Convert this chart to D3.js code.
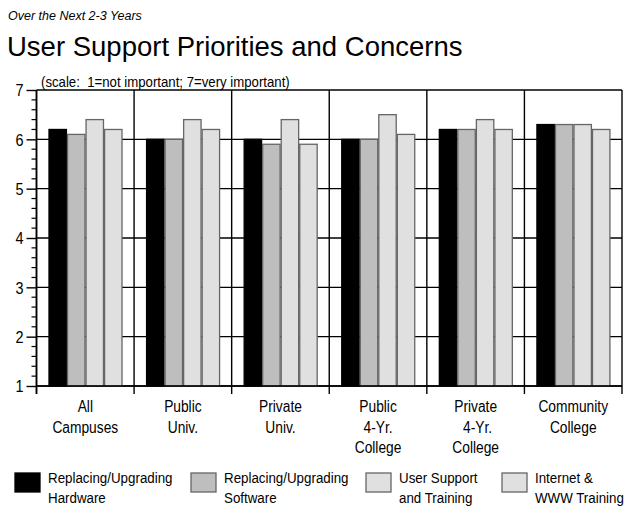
<!DOCTYPE html>
<html>
<head>
<meta charset="utf-8">
<script src="https://cdn.jsdelivr.net/npm/d3@7"></script>
<style>
  body { margin: 0; background: #fff; }
  text { font-family: "Liberation Sans", Arial, Helvetica, sans-serif; fill: #000; }
</style>
</head>
<body>
<div id="viz"></div>
<script>
// categories (multi-line labels)
const categories = [
    ["All", "Campuses"],
    ["Public", "Univ."],
    ["Private", "Univ."],
    ["Public", "4-Yr.", "College"],
    ["Private", " 4-Yr.", "College"],
    ["Community", "College"]
];

// series names (legend, two lines each)
const seriesNames = [
    ["Replacing/Upgrading", "Hardware"],
    ["Replacing/Upgrading", "Software"],
    ["User Support", "and Training"],
    ["Internet &", "WWW Training"]
];

// values per series, one per category
const hardware = [6.2, 6.0, 6.0, 6.0, 6.2, 6.3];
const software = [6.1, 6.0, 5.9, 6.0, 6.2, 6.3];
const support  = [6.4, 6.4, 6.4, 6.5, 6.4, 6.3];
const internet = [6.2, 6.2, 5.9, 6.1, 6.2, 6.2];

const yTicks = [1, 2, 3, 4, 5, 6, 7];

const fills   = ["#000000", "#bebebe", "#e0e0e0", "#e0e0e0"];
const strokes = ["#000000", "#666666", "#666666", "#666666"];

const width = 630;
const height = 510;

const series = [hardware, software, support, internet];

const svg = d3.select("#viz")
    .append("svg")
    .attr("width", width)
    .attr("height", height);

// squeeze text a bit so it looks like the narrow original font
function condense(sel, f) {
    sel.each(function () {
        const len = this.getComputedTextLength();
        d3.select(this)
            .attr("textLength", len * f)
            .attr("lengthAdjust", "spacingAndGlyphs");
    });
}

// titles
svg.append("text")
    .attr("x", 8)
    .attr("y", 20)
    .style("font-size", "12.5px")
    .style("font-style", "italic")
    .text("Over the Next 2-3 Years");

svg.append("text")
    .attr("x", 7)
    .attr("y", 56)
    .style("font-size", "27.5px")
    .text("User Support Priorities and Concerns");

const plotLeft = 36.5, plotRight = 622, plotTop = 90, plotBottom = 386;

const x0 = d3.scaleBand()
    .domain(d3.range(categories.length))
    .range([plotLeft, plotRight]);

const x1 = d3.scaleBand()
    .domain(d3.range(series.length))
    .range([12.5, 85.5])
    .paddingInner(0.06);

const y = d3.scaleLinear()
    .domain([1, 7])
    .range([plotBottom, plotTop]);

svg.append("text")
    .attr("x", 41)
    .attr("y", 87)
    .style("font-size", "15px")
    .text("(scale:\u00a0\u00a01=not important; 7=very important)")
    .call(condense, 0.88);

// horizontal grid lines
svg.append("g")
    .selectAll("line")
    .data(yTicks)
    .enter()
    .append("line")
    .attr("x1", plotLeft)
    .attr("x2", plotRight)
    .attr("y1", d => y(d))
    .attr("y2", d => y(d))
    .attr("stroke", "#000")
    .attr("stroke-width", 1.4);

// group dividers
svg.append("g")
    .selectAll("line")
    .data(d3.range(categories.length + 1))
    .enter()
    .append("line")
    .attr("x1", d => d < categories.length ? x0(d) : plotRight)
    .attr("x2", d => d < categories.length ? x0(d) : plotRight)
    .attr("y1", plotTop)
    .attr("y2", plotBottom + 8)
    .attr("stroke", "#000")
    .attr("stroke-width", 1.4);

// bars
const groups = svg.append("g")
    .selectAll("g")
    .data(categories)
    .enter()
    .append("g")
    .attr("transform", (d, i) => `translate(${x0(i)},0)`);

groups.selectAll("rect")
    .data((d, i) => series.map((s, j) => ({ s: j, v: s[i] })))
    .enter()
    .append("rect")
    .attr("x", d => x1(d.s))
    .attr("width", x1.bandwidth())
    .attr("y", d => y(d.v))
    .attr("height", d => y(1) - y(d.v))
    .attr("fill", d => fills[d.s])
    .attr("stroke", d => strokes[d.s])
    .attr("stroke-width", 1.3);

// y axis
const yAxis = d3.axisLeft(y)
    .tickValues(yTicks)
    .tickSize(10)
    .tickPadding(3)
    .tickFormat(d3.format("d"));

const yg = svg.append("g")
    .attr("transform", `translate(${plotLeft},0)`)
    .call(yAxis);
yg.select(".domain").remove();
yg.selectAll(".tick line").attr("stroke-width", 1.4);
yg.selectAll(".tick text")
    .style("font-size", "16px")
    .style("font-family", "'Liberation Sans', Arial, sans-serif")
    .attr("dy", "0.36em")
    .call(condense, 0.9);

const minor = d3.range(1, 7.001, 0.2).filter(v => Math.abs(v - Math.round(v)) > 0.01);
svg.append("g")
    .selectAll("line")
    .data(minor)
    .enter()
    .append("line")
    .attr("x1", plotLeft - 5)
    .attr("x2", plotLeft)
    .attr("y1", d => y(d))
    .attr("y2", d => y(d))
    .attr("stroke", "#000")
    .attr("stroke-width", 1.2);

// frame
svg.append("line")
    .attr("x1", plotLeft).attr("x2", plotLeft)
    .attr("y1", plotTop).attr("y2", plotBottom + 8)
    .attr("stroke", "#000").attr("stroke-width", 1.6);
svg.append("line")
    .attr("x1", plotLeft).attr("x2", plotRight)
    .attr("y1", plotBottom).attr("y2", plotBottom)
    .attr("stroke", "#000").attr("stroke-width", 1.6);

// category labels
const catLabels = svg.append("g")
    .selectAll("text")
    .data(categories)
    .enter()
    .append("text")
    .attr("text-anchor", "middle")
    .style("font-size", "16px")
    .style("white-space", "pre")
    .attr("transform", (d, i) => `translate(${x0(i) + x0.bandwidth() / 2},412)`);

catLabels.selectAll("tspan")
    .data(d => d)
    .enter()
    .append("tspan")
    .attr("x", 0)
    .attr("y", (d, i) => i * 20.5)
    .text(d => d)
    .call(condense, 0.86);

// legend
const legendX = [15, 191, 366, 502];
const legend = svg.append("g")
    .selectAll("g")
    .data(seriesNames)
    .enter()
    .append("g")
    .attr("transform", (d, i) => `translate(${legendX[i]},473)`);

legend.append("rect")
    .attr("width", 25)
    .attr("height", 19)
    .attr("fill", (d, i) => fills[i])
    .attr("stroke", (d, i) => strokes[i])
    .attr("stroke-width", 1.3);

legend.append("text")
    .style("font-size", "15.5px")
    .selectAll("tspan")
    .data(d => d)
    .enter()
    .append("tspan")
    .attr("x", 33)
    .attr("y", (d, i) => 10 + i * 20)
    .text(d => d)
    .call(condense, 0.86);
</script>
</body>
</html>
